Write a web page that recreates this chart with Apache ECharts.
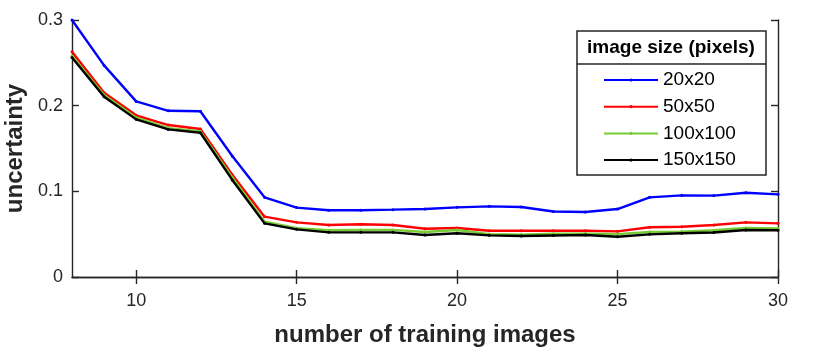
<!DOCTYPE html>
<html>
<head>
<meta charset="utf-8">
<script src="https://cdn.jsdelivr.net/npm/echarts@6/dist/echarts.min.js"></script>
<style>
html,body{margin:0;padding:0;background:#fff;}
#chart{width:830px;height:350px;}
</style>
</head>
<body>
<div id="chart"></div>
<script>
// ---- data ----
const trainingImages = [8,9,10,11,12,13,14,15,16,17,18,19,20,21,22,23,24,25,26,27,28,29,30];
const seriesNames = ['20x20','50x50','100x100','150x150'];
const seriesColors = ['#0000ff','#ff0000','#77cc33','#000000'];
const unc20 = [0.300,0.247,0.205,0.194,0.1935,0.141,0.093,0.081,0.078,0.078,0.0786,0.0793,0.0813,0.0825,0.0817,0.0765,0.0758,0.0793,0.093,0.0953,0.095,0.0984,0.0965];
const unc50 = [0.263,0.215,0.1887,0.1774,0.1727,0.119,0.0704,0.0638,0.0607,0.0615,0.0607,0.0564,0.0572,0.054,0.054,0.054,0.054,0.0533,0.058,0.0587,0.0607,0.0638,0.0626];
const unc100 = [0.258,0.2125,0.186,0.1738,0.170,0.116,0.0645,0.057,0.0545,0.055,0.055,0.0525,0.0548,0.050,0.0494,0.0505,0.0505,0.050,0.0525,0.053,0.0545,0.0572,0.0568];
const unc150 = [0.2563,0.2104,0.184,0.1723,0.1684,0.113,0.0626,0.0556,0.0521,0.0521,0.0521,0.049,0.051,0.0486,0.0478,0.0484,0.049,0.047,0.0498,0.051,0.052,0.0548,0.0545];
const xTicks = [10,15,20,25,30];
const yTicks = [0,0.1,0.2,0.3];
const xTitle = 'number of training images';
const yTitle = 'uncertainty';
const legendTitle = 'image size (pixels)';

const allValues = [unc20, unc50, unc100, unc150];
const axisColor = '#262626';
const font = "'Liberation Sans', Arial, Helvetica, sans-serif";

const chart = echarts.init(document.getElementById('chart'), null, {renderer:'canvas'});

const series = allValues.map((vals, i) => ({
  name: seriesNames[i],
  type: 'line',
  data: trainingImages.map((x, j) => [x, vals[j]]),
  symbol: 'circle',
  symbolSize: 3,
  showSymbol: true,
  lineStyle: { color: seriesColors[i], width: 2.4 },
  itemStyle: { color: seriesColors[i] },
  animation: false,
  z: 2 + i
}));

const baseAxisLine = { show: true, lineStyle: { color: axisColor, width: 1.4 } };
const tickStyle = { show: true, inside: true, length: 7, lineStyle: { color: axisColor, width: 1.4 } };

chart.setOption({
  animation: false,
  backgroundColor: '#ffffff',
  grid: { left: 72, right: 52, top: 20, bottom: 73, containLabel: false, outerBoundsMode: 'none' },
  xAxis: [
    {
      type: 'value', min: 8, max: 30, position: 'bottom',
      name: xTitle, nameLocation: 'middle', nameGap: 46,
      nameTextStyle: { fontFamily: font, fontSize: 24, fontWeight: 'bold', color: axisColor },
      axisLine: baseAxisLine,
      axisTick: Object.assign({}, tickStyle, { customValues: xTicks }),
      axisLabel: { customValues: xTicks, fontFamily: font, fontSize: 18, color: axisColor, margin: 15 },
      splitLine: { show: false }
    },
    {
      type: 'value', min: 8, max: 30, position: 'top',
      axisLine: baseAxisLine,
      axisTick: Object.assign({}, tickStyle, { customValues: xTicks }),
      axisLabel: { show: false },
      splitLine: { show: false }
    }
  ],
  yAxis: [
    {
      type: 'value', min: 0, max: 0.3, interval: 0.1, position: 'left',
      name: yTitle, nameLocation: 'middle', nameGap: 44, nameRotate: 90,
      nameTextStyle: { fontFamily: font, fontSize: 24, fontWeight: 'bold', color: axisColor },
      axisLine: baseAxisLine,
      axisTick: tickStyle,
      axisLabel: { fontFamily: font, fontSize: 18, color: axisColor, margin: 9,
        formatter: v => String(Math.round(v * 10) / 10) },
      splitLine: { show: false }
    },
    {
      type: 'value', min: 0, max: 0.3, interval: 0.1, position: 'right',
      axisLine: baseAxisLine,
      axisTick: tickStyle,
      axisLabel: { show: false },
      splitLine: { show: false }
    }
  ],
  legend: {
    show: true,
    orient: 'vertical',
    left: 603, top: 70,
    padding: 0,
    z: 20, zlevel: 0,
    itemWidth: 54, itemHeight: 4, itemGap: 6.7,
    data: seriesNames,
    textStyle: { fontFamily: font, fontSize: 19, color: '#000', lineHeight: 20 },
    selectedMode: false
  },
  graphic: [
    { type: 'rect', shape: { x: 577, y: 31, width: 189, height: 144 },
      style: { fill: '#ffffff', stroke: axisColor, lineWidth: 1.5 }, z: 5 },
    { type: 'line', shape: { x1: 577, y1: 64, x2: 766, y2: 64 },
      style: { stroke: axisColor, lineWidth: 1.5 }, z: 6 },
    { type: 'text', x: 671, y: 48, z: 6,
      style: { text: legendTitle, fontFamily: font, fontSize: 19, fontWeight: 'bold',
        fill: '#000', align: 'center', verticalAlign: 'middle' } }
  ],
  series: series
});
</script>
</body>
</html>
